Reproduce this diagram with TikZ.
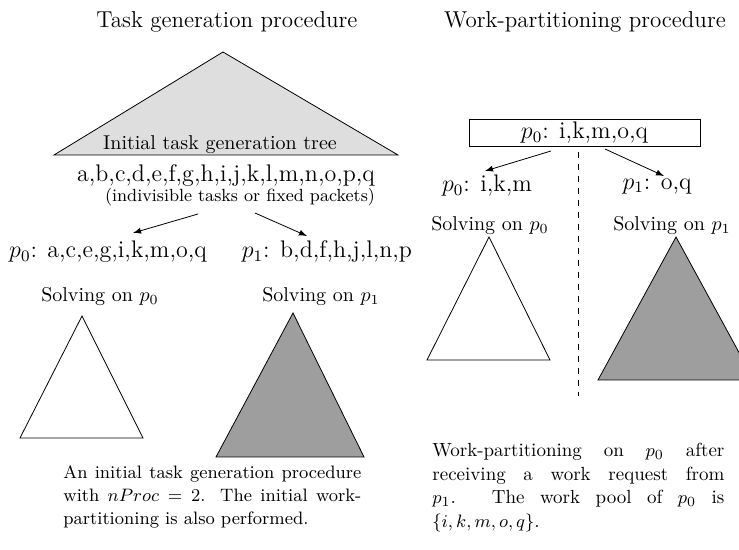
\documentclass[tikz,border=0pt]{standalone}
\usepackage{xcolor}
\usepackage{tikz}
\usetikzlibrary{positioning}

\definecolor{treegray}{gray}{0.87}
\definecolor{solvegray}{gray}{0.62}

\begin{document}
\begin{tikzpicture}[x=0.5pt, y=-0.5pt,
  every node/.style={inner sep=0pt},
  title/.style={font=\fontsize{11.5}{14}\selectfont},
  tasks/.style={font=\fontsize{12}{14}\selectfont},
  solving/.style={font=\fontsize{10}{12}\selectfont},
  caption/.style={font=\fontsize{9}{11.5}\selectfont, text width=149pt, align=justify, anchor=north west}]
  \useasboundingbox (0,0) rectangle (739,550);

  % task generation
  \node[title] (tgtitle) at (227,22) {Task generation procedure};
  \filldraw[fill=treegray] (54,155) -- (223,52) -- (398,155) -- cycle;
  \node[solving] (tree) at (220,145) {Initial task generation tree};
  \node[tasks] (alltasks) at (226,176) {a,b,c,d,e,f,g,h,i,j,k,l,m,n,o,p,q};
  \node[font=\fontsize{8.8}{10}\selectfont] (packets) at (240,197) {(indivisible tasks or fixed packets)};
  \node[tasks] (tg0) at (108,252) {$p_0$: a,c,e,g,i,k,m,o,q};
  \node[tasks] (tg1) at (327,252) {$p_1$: b,d,f,h,j,l,n,p};
  \coordinate (s0) at (198,214);
  \coordinate (e0) at (133,233);
  \coordinate (s1) at (255,213);
  \coordinate (e1) at (307,236);
  \draw[-latex] (s0) -- (e0);
  \draw[-latex] (s1) -- (e1);

  \node[solving] (solve0) at (100,297) {Solving on $p_0$};
  \node[solving] (solve1) at (321,297) {Solving on $p_1$};
  \draw (20,438) -- (82,316) -- (143,438) -- cycle;
  \filldraw[fill=solvegray] (216,457) -- (293,313) -- (364,457) -- cycle;

  \node[caption] (tgcap) at (63,465) {An initial task generation procedure with $nProc=2$. The initial work-partitioning is also performed.};

  % work partitioning
  \node[title] (wptitle) at (585,22) {Work-partitioning procedure};
  \node[tasks, draw, minimum width=115.5pt, minimum height=13.5pt] (pool) at (584.5,132.5) {$p_0$: i,k,m,o,q\hspace{8pt}};
  \node[tasks] (wp0) at (487,186) {$p_0$: i,k,m};
  \node[tasks] (wp1) at (657,186) {$p_1$: o,q};
  \coordinate (w0s) at (551,151);
  \coordinate (w0e) at (485,171);
  \coordinate (w1s) at (605,149);
  \coordinate (w1e) at (664,176);
  \draw[-latex] (w0s) -- (w0e);
  \draw[-latex] (w1s) -- (w1e);
  \draw[dashed] (578,152) -- (578,396);

  \node[solving] (wsolve0) at (490,226) {Solving on $p_0$};
  \node[solving] (wsolve1) at (672,226) {Solving on $p_1$};
  \draw (427,360) -- (489,237) -- (550,360) -- cycle;
  \filldraw[fill=solvegray] (598,380) -- (676,237) -- (754,380) -- cycle;

  \node[caption, font=\fontsize{9.5}{11.75}\selectfont, text width=146pt] (wpcap) at (432,443) {Work-partitioning on $p_0$ after\linebreak receiving a work request from\linebreak $p_1$. The work pool of $p_0$ is\linebreak $\{i,k,m,o,q\}$.};
\end{tikzpicture}
\end{document}
